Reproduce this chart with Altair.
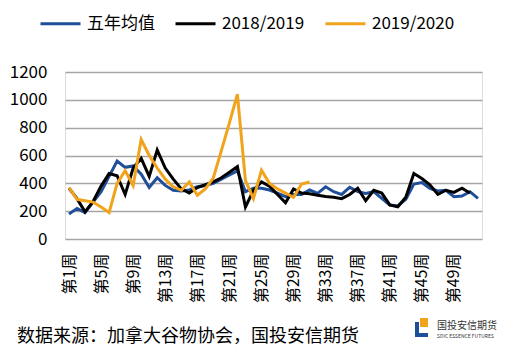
import altair as alt
import pandas as pd

weeks = [f"第{i}周" for i in range(1, 53)]
series_names = ["五年均值", "2018/2019", "2019/2020"]
colors = ["#1F4E9A", "#000000", "#F2A31C"]

five_year = [180, 220, 190, 265, 340, 450, 560, 515, 525, 465,
             370, 440, 385, 350, 345, 352, 375, 385, 400, 430,
             460, 490, 340, 365, 365, 352, 330, 305, 320, 320,
             352, 328, 375, 340, 320, 372, 340, 328, 340, 292,
             244, 237, 285, 395, 405, 364, 345, 350, 304, 309,
             340, 292]
s1819 = [365, 290, 195, 270, 380, 470, 455, 320, 510, 580,
         450, 640, 510, 430, 360, 330, 370, 390, 410, 440,
         480, 520, 230, 350, 410, 380, 320, 260, 360, 330,
         325, 315, 305, 300, 290, 320, 365, 275, 350, 330,
         245, 232, 300, 470, 435, 390, 320, 350, 335, 365,
         330]
s1920 = [370, 285, 275, 265, 230, 190, 400, 490, 385, 715,
         600, 510, 430, 375, 350, 410, 315, 360, 440, 635,
         835, 1040, 420, 290, 495, 400, 360, 330, 300, 395,
         410]

tick_labels = ["第1周", "第5周", "第9周", "第13周", "第17周", "第21周", "第25周",
               "第29周", "第33周", "第37周", "第41周", "第45周", "第49周"]
y_ticks = [0, 200, 400, 600, 800, 1000, 1200]
footer_text = ["数据来源：加拿大谷物协会，国投安信期货"]
logo_name = ["国投安信期货"]
logo_en = ["SDIC ESSENCE FUTURES"]

rows = []
for name, vals in zip(series_names, [five_year, s1819, s1920]):
    for w, v in zip(weeks, vals):
        rows.append({"week": w, "series": name, "value": v})
df = pd.DataFrame(rows)

FONT = "Noto Sans CJK SC"

x = alt.X("week:N", sort=weeks, scale=alt.Scale(domain=weeks),
          axis=alt.Axis(values=tick_labels, labelAngle=-90, title=None, ticks=False,
                        domain=False, grid=False, labelFontSize=16, labelPadding=14,
                        labelColor="#000000", labelFont=FONT))
y = alt.Y("value:Q", scale=alt.Scale(domain=[0, 1200]),
          axis=alt.Axis(values=y_ticks, format="d", title=None, domain=False, ticks=False,
                        gridColor="#a6a6a6", gridWidth=1.5, labelFontSize=17,
                        labelPadding=18, labelColor="#000000", labelFont=FONT))
color = alt.Color("series:N", scale=alt.Scale(domain=series_names, range=colors),
                  legend=alt.Legend(title=None, orient="none", direction="horizontal",
                                    legendX=-26, legendY=-70, symbolType="stroke",
                                    symbolSize=1600, symbolStrokeWidth=3,
                                    labelFontSize=17, labelFont=FONT, labelColor="#000000",
                                    labelOffset=5, columnPadding=14))

base = alt.Chart(df).mark_line(strokeWidth=3).encode(x=x, y=y, color=color)
layers = [base.transform_filter(alt.datum.series == n) for n in series_names]

footer = alt.Chart(pd.DataFrame({"t": footer_text})).mark_text(
    align="left", baseline="middle", fontSize=18, font=FONT, color="#000000"
).encode(x=alt.value(-48), y=alt.value(265), text="t:N")

logo_blue1 = alt.Chart(pd.DataFrame({"a": [1]})).mark_rect(color="#1F4E9A").encode(
    x=alt.value(350), x2=alt.value(354), y=alt.value(250), y2=alt.value(265))
logo_blue2 = alt.Chart(pd.DataFrame({"a": [1]})).mark_rect(color="#1F4E9A").encode(
    x=alt.value(350), x2=alt.value(363), y=alt.value(261), y2=alt.value(265))
logo_orange = alt.Chart(pd.DataFrame({"a": [1]})).mark_rect(color="#F2A31C").encode(
    x=alt.value(355), x2=alt.value(363), y=alt.value(246), y2=alt.value(255))
logo_t1 = alt.Chart(pd.DataFrame({"t": logo_name})).mark_text(
    align="left", baseline="middle", fontSize=10, font=FONT, color="#333333"
).encode(x=alt.value(372), y=alt.value(254), text="t:N")
logo_t2 = alt.Chart(pd.DataFrame({"t": logo_en})).mark_text(
    align="left", baseline="middle", fontSize=5, font=FONT, color="#333333"
).encode(x=alt.value(372), y=alt.value(264), text="t:N")

chart = alt.layer(*layers, footer, logo_blue1, logo_blue2, logo_orange, logo_t1, logo_t2).properties(
    width=417, height=167,
    autosize=alt.AutoSizeParams(type="none"),
    padding={"left": 57, "top": 64, "right": 26, "bottom": 113},
).configure_view(stroke=None).configure(background="#ffffff")

chart.save("out.html", embed_options={"renderer": "svg", "actions": False})
